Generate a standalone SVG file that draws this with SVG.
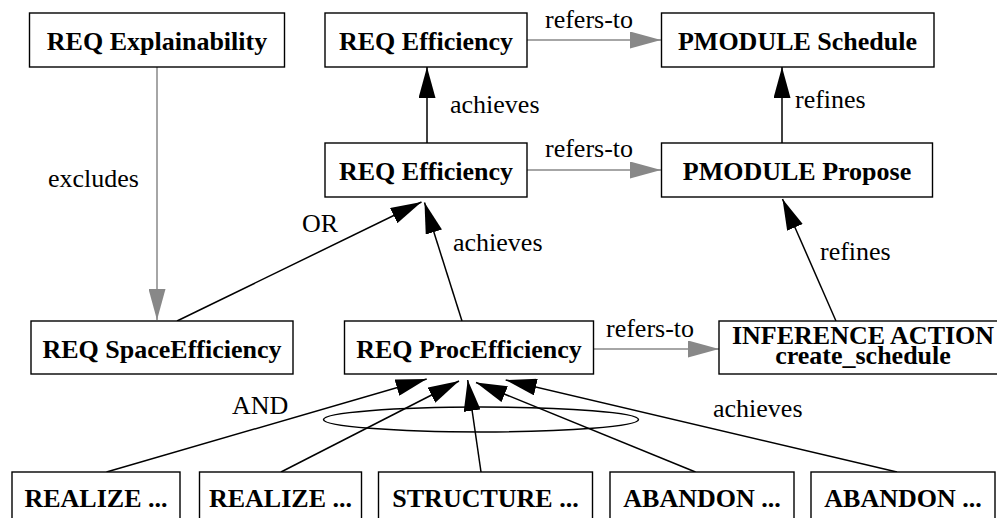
<svg xmlns="http://www.w3.org/2000/svg" width="997" height="518" viewBox="0 0 997 518">
<defs>
<style>
.box{fill:#fff;stroke:#000;stroke-width:1.4}
.nt{font-family:'Liberation Serif','Times New Roman',serif;font-weight:bold;font-size:26px;fill:#000;text-anchor:middle}
.lb{font-family:'Liberation Serif','Times New Roman',serif;font-size:26px;fill:#000}
.e{fill:none;stroke:#000;stroke-width:1.5}
.g{fill:none;stroke:#888;stroke-width:1.5}
</style>
<marker id="ab" markerUnits="userSpaceOnUse" markerWidth="31" markerHeight="17" viewBox="0 0 31 17" refX="31" refY="8.5" orient="auto"><path d="M0,0 L31,8.5 L0,17 z" fill="#000"/></marker>
<marker id="ag" markerUnits="userSpaceOnUse" markerWidth="31" markerHeight="17" viewBox="0 0 31 17" refX="31" refY="8.5" orient="auto"><path d="M0,0 L31,8.5 L0,17 z" fill="#888"/></marker>
</defs>
<rect width="997" height="518" fill="#fff"/>
<g id="connectors">
<line class="g" x1="157" y1="67" x2="157" y2="320" marker-end="url(#ag)"/>
<text class="lb" x="48" y="187">excludes</text>
<line class="e" x1="177" y1="321" x2="421.5" y2="202" marker-end="url(#ab)"/>
<text class="lb" x="302" y="232">OR</text>
<line class="e" x1="462" y1="321" x2="424.5" y2="202.5" marker-end="url(#ab)"/>
<text class="lb" x="453" y="251">achieves</text>
<line class="e" x1="427" y1="143" x2="427" y2="67" marker-end="url(#ab)"/>
<text class="lb" x="450" y="113">achieves</text>
<line class="g" x1="527" y1="40" x2="661" y2="40" marker-end="url(#ag)"/>
<text class="lb" x="545" y="28">refers-to</text>
<line class="g" x1="527" y1="170" x2="661" y2="170" marker-end="url(#ag)"/>
<text class="lb" x="545" y="157">refers-to</text>
<line class="e" x1="782" y1="143" x2="782" y2="67" marker-end="url(#ab)"/>
<text class="lb" x="795" y="108">refines</text>
<line class="e" x1="836" y1="321" x2="782.5" y2="199" marker-end="url(#ab)"/>
<text class="lb" x="820" y="260">refines</text>
<line class="g" x1="593" y1="349" x2="719" y2="349" marker-end="url(#ag)"/>
<text class="lb" x="606" y="337">refers-to</text>
<line class="e" x1="106.5" y1="472" x2="426.7" y2="379" marker-end="url(#ab)"/>
<line class="e" x1="281" y1="472" x2="459" y2="381" marker-end="url(#ab)"/>
<line class="e" x1="481" y1="472" x2="467.7" y2="380" marker-end="url(#ab)"/>
<line class="e" x1="695.5" y1="472" x2="476" y2="382.5" marker-end="url(#ab)"/>
<line class="e" x1="897" y1="472" x2="505.7" y2="380" marker-end="url(#ab)"/>
<ellipse class="e" cx="481" cy="419.5" rx="157.5" ry="12.5"/>
<text class="lb" x="232" y="414">AND</text>
<text class="lb" x="713" y="417">achieves</text>
</g>
<g id="n-explainability"><rect class="box" x="29.5" y="13" width="255" height="54"/><text class="nt" x="157" y="50">REQ Explainability</text></g>
<g id="n-efficiency-top"><rect class="box" x="325" y="13" width="202" height="54"/><text class="nt" x="426" y="50">REQ Efficiency</text></g>
<g id="n-schedule"><rect class="box" x="661.5" y="13" width="272.5" height="54"/><text class="nt" x="797.5" y="50">PMODULE Schedule</text></g>
<g id="n-efficiency-mid"><rect class="box" x="325" y="143" width="202" height="54"/><text class="nt" x="426" y="180">REQ Efficiency</text></g>
<g id="n-propose"><rect class="box" x="661.5" y="143" width="271" height="54"/><text class="nt" x="797" y="180">PMODULE Propose</text></g>
<g id="n-space"><rect class="box" x="31" y="321" width="262" height="53"/><text class="nt" x="162" y="358">REQ SpaceEfficiency</text></g>
<g id="n-proc"><rect class="box" x="344.5" y="321" width="249" height="53"/><text class="nt" x="469" y="358">REQ ProcEfficiency</text></g>
<g id="n-inference"><rect class="box" x="719" y="321" width="290" height="53"/><text class="nt" x="863" y="344">INFERENCE ACTION</text><text class="nt" x="863" y="364">create_schedule</text></g>
<g id="n-realize1"><rect class="box" x="12" y="472" width="168" height="60"/><text class="nt" x="96" y="507">REALIZE ...</text></g>
<g id="n-realize2"><rect class="box" x="199.5" y="472" width="162" height="60"/><text class="nt" x="280.5" y="507">REALIZE ...</text></g>
<g id="n-structure"><rect class="box" x="378.5" y="472" width="214" height="60"/><text class="nt" x="485.5" y="507">STRUCTURE ...</text></g>
<g id="n-abandon1"><rect class="box" x="610" y="472" width="184" height="60"/><text class="nt" x="702" y="507">ABANDON ...</text></g>
<g id="n-abandon2"><rect class="box" x="811" y="472" width="184" height="60"/><text class="nt" x="903" y="507">ABANDON ...</text></g>
</svg>
